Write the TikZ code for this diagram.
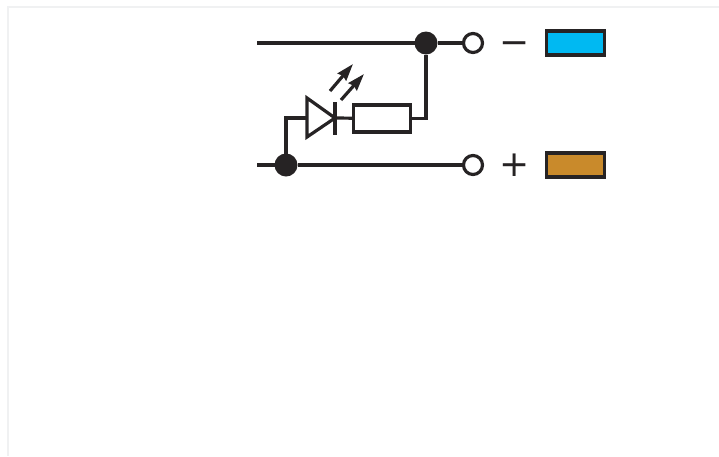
\documentclass[tikz,border=0pt]{standalone}
\usepackage{fontspec}
\setmainfont{DejaVu Sans}
\usetikzlibrary{arrows.meta}
\definecolor{wirecol}{HTML}{262324}
\definecolor{framecol}{HTML}{F0F1F2}
\definecolor{minuscol}{HTML}{00B9F2}
\definecolor{pluscol}{HTML}{C98A2B}

\begin{document}
\begin{tikzpicture}[x=1pt,y=-1pt,line width=3.2pt,draw=wirecol,
                    >={Stealth[length=17pt,width=11pt,inset=1.5pt]}]
  \tikzstyle{every node}=[inner sep=0pt,outer sep=0pt]
  \tikzstyle{junction}=[circle,fill=wirecol,minimum size=23pt]
  \tikzstyle{terminal}=[circle,draw=wirecol,fill=white,minimum size=19pt]
  \tikzstyle{resistor}=[rectangle,draw=wirecol,fill=white,minimum width=57pt,minimum height=27pt]
  \tikzstyle{colorbox}=[rectangle,draw=wirecol,minimum width=58pt,minimum height=24pt]
  \tikzstyle{polarity}=[text=wirecol,font=\fontsize{36}{36}\selectfont]

  \useasboundingbox (0,0) rectangle (719,456);
  \draw[framecol,line width=2pt] (8,456) -- (8,7) -- (719,7);

  \coordinate (minusin) at (257,43);
  \coordinate (plusin)  at (257,165);
  \node[junction] (minusdot)  at (426,43)  {};
  \node[junction] (plusdot)   at (286,165) {};
  \node[terminal] (minusterm) at (473,43)  {};
  \node[terminal] (plusterm)  at (473,165) {};
  \node[resistor] (res)       at (382,118.5) {};
  \node[colorbox,fill=minuscol] (minusbox) at (575.5,43)  {};
  \node[colorbox,fill=pluscol]  (plusbox)  at (575.5,165) {};
  \node[polarity] (minussign) at (514.5,48)  {−};
  \node[polarity] (plussign)  at (514.5,165) {+};

  % diode
  \coordinate (dtop)  at (307,98);
  \coordinate (dbot)  at (307,137);
  \coordinate (dleft) at (307,118);
  \coordinate (dtip)  at (335,118);
  \coordinate (bartop) at (335,102);
  \coordinate (barbot) at (335,135);
  \draw[line join=miter] (dtop) -- (dtip) -- (dbot) -- cycle;
  \draw (bartop) -- (barbot);

  % light rays
  \coordinate (rayAs) at (330,91);
  \coordinate (rayAe) at (353,64);
  \coordinate (rayBs) at (341,100);
  \coordinate (rayBe) at (364,74);
  \draw[->] (rayAs) -- (rayAe);
  \draw[->] (rayBs) -- (rayBe);

  \path (minusin) edge (minusdot)
        (minusdot) edge (minusterm)
        (plusin) edge (plusdot)
        (plusdot) edge (plusterm)
        (dtip) edge (res)
        (res) edge [to path={-| (\tikztotarget)}] (minusdot)
        (plusdot) edge [to path={|- (\tikztotarget)}] (dleft);
\end{tikzpicture}
\end{document}
